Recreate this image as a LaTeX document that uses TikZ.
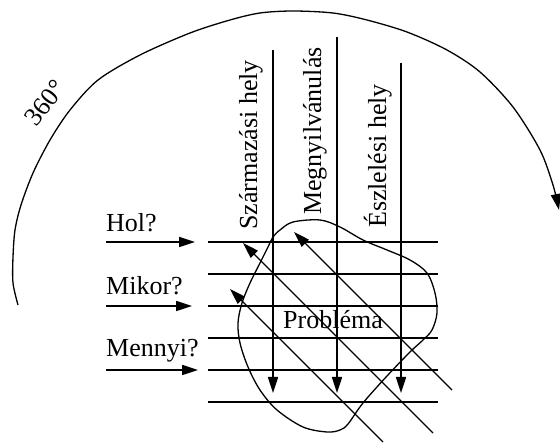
\documentclass[tikz,border=0pt]{standalone}
\usepackage{fontspec}
\setmainfont{Liberation Serif}
\usetikzlibrary{arrows.meta}
\begin{document}
\begin{tikzpicture}[x=1pt,y=-1pt,
  gridline/.style={line width=1.7pt},
  thinline/.style={line width=1.3pt},
  tipend/.style={-{Triangle[length=16pt,width=10pt]}},
  lbl/.style={font=\fontsize{26}{30}\selectfont, inner sep=0pt}]
\useasboundingbox (0,0) rectangle (560,443);

% big arc
\draw[thinline, tipend] plot[smooth] coordinates {(18,305) (13,283) (13,257) (15,230) (21,205) (33,173) (50,140) (70,110) (98,80) (140,55) (190,33) (230,20) (260,13) (293,11) (333,13) (367,20) (407,32) (447,50) (480,72) (513,107) (540,150) (553,185) (559,210)};
\node[lbl, rotate=52] (deg) at (45,103) {360°};

% blob
\draw[thinline] plot[smooth cycle, tension=0.55] coordinates {(280,230) (293,222) (320,220) (340,227) (363,240) (387,250) (410,260) (427,273) (435,293) (437,313) (432,330) (423,340) (410,352) (387,376) (363,403) (348,424) (340,430) (327,432) (303,427) (277,410) (260,390) (248,367) (240,343) (238,323) (242,303) (250,283) (260,263) (268,247) (273,237)};

% horizontal grid lines
\foreach \i/\yy in {1/242,2/274,3/306,4/338,5/370,6/402}{
  \coordinate (hw\i) at (208,\yy);
  \coordinate (he\i) at (438,\yy);
  \draw[gridline] (hw\i) -- (he\i);
}

% vertical arrows
\coordinate (v1t) at (273,50);  \coordinate (v1b) at (273,393);
\coordinate (v2t) at (337,37);  \coordinate (v2b) at (337,393);
\coordinate (v3t) at (401,63);  \coordinate (v3b) at (401,393);
\draw[gridline, tipend] (v1t) -- (v1b);
\draw[gridline, tipend] (v2t) -- (v2b);
\draw[gridline, tipend] (v3t) -- (v3b);

% diagonal arrows
\coordinate (d1s) at (383,442); \coordinate (d1e) at (230,289);
\coordinate (d2s) at (433,433); \coordinate (d2e) at (243,243);
\coordinate (d3s) at (452,390); \coordinate (d3e) at (294,232);
\draw[thinline, tipend] (d1s) -- (d1e);
\draw[thinline, tipend] (d2s) -- (d2e);
\draw[thinline, tipend] (d3s) -- (d3e);

% left labels and arrows
\node[lbl, anchor=base west] (hol) at (106,232) {Hol?};
\node[lbl, anchor=base west] (mikor) at (106,295) {Mikor?};
\node[lbl, anchor=base west] (mennyi) at (106,357) {Mennyi?};
\coordinate (a1s) at (106,242); \coordinate (a1e) at (195,242);
\coordinate (a2s) at (106,306); \coordinate (a2e) at (192,306);
\coordinate (a3s) at (106,370); \coordinate (a3e) at (198,370);
\draw[gridline, tipend] (a1s) -- (a1e);
\draw[gridline, tipend] (a2s) -- (a2e);
\draw[gridline, tipend] (a3s) -- (a3e);

% vertical labels
\node[lbl, rotate=90, anchor=base west] (szh) at (257,230) {Származási hely};
\node[lbl, rotate=90, anchor=base west] (megny) at (321,215) {Megnyilvánulás};
\node[lbl, rotate=90, anchor=base west] (eszl) at (386,228) {Észlelési hely};

\node[lbl, anchor=base west] (prob) at (283,329) {Probléma};
\end{tikzpicture}
\end{document}
